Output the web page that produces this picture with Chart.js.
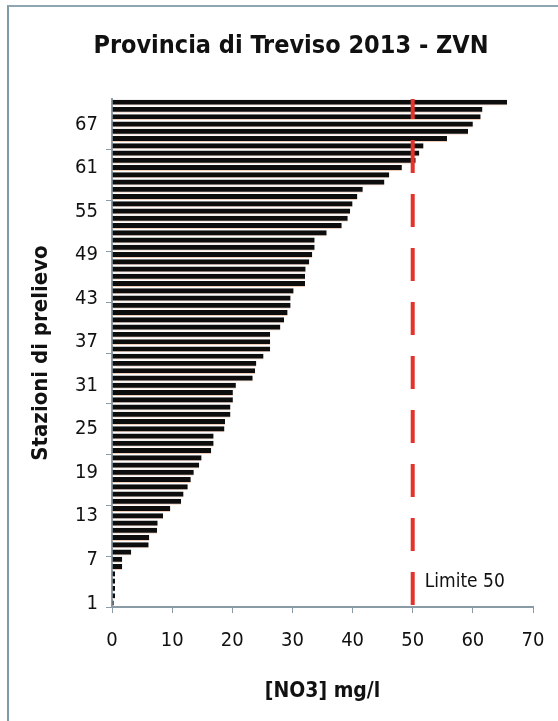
<!DOCTYPE html>
<html>
<head>
<meta charset="utf-8">
<title>Provincia di Treviso 2013 - ZVN</title>
<script src="https://cdn.jsdelivr.net/npm/chart.js@4"></script>
<style>
    html, body { margin: 0; padding: 0; background: #fff; }
    #wrap { position: relative; width: 558px; height: 721px; overflow: hidden; }
    #frame {
        position: absolute; left: 7px; top: 5px; right: -10px; bottom: -10px;
        border-left: 2px solid #7f9aa8; border-top: 2px solid #8fa6b2;
    }
    canvas { position: absolute; left: 0; top: 0; }
</style>
</head>
<body>
<div id="wrap">
    <canvas id="nitrateChart" width="558" height="721"></canvas>
    <div id="frame"></div>
</div>
<script>
const chartTitle = 'Provincia di Treviso 2013 - ZVN';
const yAxisTitle = 'Stazioni di prelievo';
const xAxisTitle = '[NO3] mg/l';
const limitLabel = 'Limite 50';
const limitValue = 50;

// stations, sorted by nitrate value (1 = lowest)
const stationLabels = ['1', '2', '3', '4', '5', '6', '7', '8', '9', '10',
    '11', '12', '13', '14', '15', '16', '17', '18', '19', '20',
    '21', '22', '23', '24', '25', '26', '27', '28', '29', '30',
    '31', '32', '33', '34', '35', '36', '37', '38', '39', '40',
    '41', '42', '43', '44', '45', '46', '47', '48', '49', '50',
    '51', '52', '53', '54', '55', '56', '57', '58', '59', '60',
    '61', '62', '63', '64', '65', '66', '67', '68', '69', '70'];

// [NO3] mg/l per station
const nitrateValues = [0.3, 0.5, 0.5, 0.5, 0.5, 1.7, 1.7, 3.2, 6.1, 6.2,
    7.5, 7.6, 8.5, 9.7, 11.5, 11.9, 12.6, 13.1, 13.6, 14.5,
    14.9, 16.5, 16.9, 16.9, 18.7, 18.8, 19.7, 19.7, 20.1, 20.1,
    20.6, 23.4, 23.8, 24.0, 25.2, 26.3, 26.3, 26.3, 28.0, 28.6,
    29.2, 29.7, 29.7, 30.2, 32.1, 32.1, 32.2, 32.8, 33.3, 33.7,
    33.7, 35.7, 38.2, 39.2, 39.6, 40.0, 40.8, 41.7, 45.3, 46.1,
    48.2, 50.5, 51.1, 51.8, 55.7, 59.2, 60.0, 61.3, 61.6, 65.7];

const shownStationTicks = ['1', '7', '13', '19', '25', '31', '37', '43', '49', '55', '61', '67'];
const xMin = 0;
const xMax = 70;
const xStep = 10;

const fontFamily = "'DejaVu Sans Condensed', 'DejaVu Sans', sans-serif";
const axisColor = '#8a9ba6';

const headingPlugin = {
    id: 'heading',
    afterDraw(chart) {
        const ctx = chart.ctx;
        ctx.save();
        ctx.fillStyle = '#111';
        ctx.font = 'bold 25px ' + fontFamily;
        ctx.textAlign = 'center';
        ctx.textBaseline = 'middle';
        ctx.fillText(chartTitle, 291, 46);
        ctx.restore();
    }
};

const limitLinePlugin = {
    id: 'limitLine',
    afterDatasetsDraw(chart) {
        const { ctx, chartArea, scales } = chart;
        const x = scales.x.getPixelForValue(limitValue);
        ctx.save();
        ctx.strokeStyle = '#e2342c';
        ctx.lineWidth = 4;
        ctx.setLineDash([33, 21]);
        ctx.beginPath();
        ctx.moveTo(x, chartArea.bottom - 2);
        ctx.lineTo(x, chartArea.top);
        ctx.stroke();
        ctx.setLineDash([]);
        ctx.fillStyle = '#111';
        ctx.font = '19px ' + fontFamily;
        ctx.textBaseline = 'middle';
        ctx.fillText(limitLabel, x + 12, chartArea.bottom - 25);
        ctx.restore();
    }
};

const ctx = document.getElementById('nitrateChart').getContext('2d');
const nitrateChart = new Chart(ctx, {
    type: 'bar',
    data: {
        labels: stationLabels,
        datasets: [{
            label: xAxisTitle,
            data: nitrateValues,
            backgroundColor: '#0d0d0d',
            borderColor: '#f1cdbb',
            borderWidth: { top: 0, bottom: 1, left: 0, right: 0 },
            borderSkipped: false,
            barPercentage: 0.82,
            categoryPercentage: 1
        }]
    },
    options: {
        indexAxis: 'y',
        responsive: false,
        animation: false,
        layout: {
            padding: { top: 99, left: 28, right: 0, bottom: 17 }
        },
        plugins: {
            legend: { display: false },
            tooltip: { enabled: false }
        },
        scales: {
            x: {
                min: xMin,
                max: xMax,
                ticks: {
                    stepSize: xStep,
                    color: '#111',
                    padding: 16,
                    font: { family: fontFamily, size: 20 }
                },
                grid: {
                    drawOnChartArea: false,
                    drawTicks: true,
                    tickLength: 6,
                    color: axisColor
                },
                border: { color: axisColor, width: 2 },
                title: {
                    display: true,
                    text: xAxisTitle,
                    color: '#111',
                    font: { family: fontFamily, size: 21, weight: 'bold' },
                    padding: { top: 4, bottom: 0 }
                },
                afterFit(scale) {
                    scale.height = 97;
                    scale.paddingRight = 25;
                }
            },
            y: {
                reverse: true,
                ticks: {
                    autoSkip: false,
                    color: '#111',
                    padding: 8,
                    font: { family: fontFamily, size: 20 },
                    callback(value, index) {
                        const label = stationLabels[index];
                        return shownStationTicks.includes(label) ? label : '';
                    }
                },
                grid: {
                    offset: true,
                    drawOnChartArea: false,
                    drawTicks: true,
                    tickLength: 6,
                    color: (c) => (c.index % 7 === 0 ? axisColor : 'rgba(0,0,0,0)')
                },
                border: { color: axisColor, width: 2 },
                title: {
                    display: true,
                    text: yAxisTitle,
                    color: '#111',
                    font: { family: fontFamily, size: 22, weight: 'bold' },
                    padding: 0
                },
                afterFit(scale) {
                    scale.width = 84;
                }
            }
        }
    },
    plugins: [headingPlugin, limitLinePlugin]
});
</script>
</body>
</html>
